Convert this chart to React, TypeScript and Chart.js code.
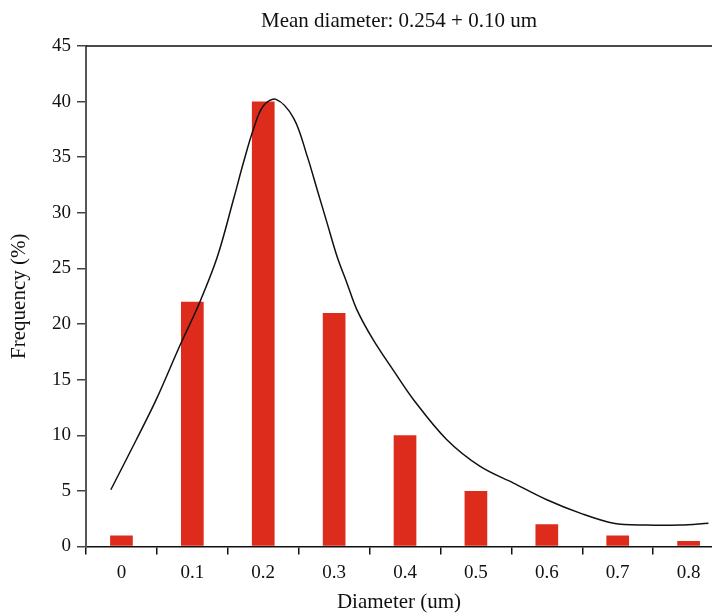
import React, { useEffect, useRef } from "react";
import { Chart, registerables } from "chart.js";

Chart.register(...registerables);

const diameters = [0, 0.1, 0.2, 0.3, 0.4, 0.5, 0.6, 0.7, 0.8];
const frequencies = [1, 22, 40, 21, 10, 5, 2, 1, 0.5];
const xTickLabels = ["0", "0.1", "0.2", "0.3", "0.4", "0.5", "0.6", "0.7", "0.8"];
const yTicks = [0, 5, 10, 15, 20, 25, 30, 35, 40, 45];

const curveX = [-0.015, 0.021, 0.049, 0.082, 0.11, 0.135, 0.158, 0.172, 0.186, 0.2, 0.218, 0.243, 0.262, 0.276, 0.29, 0.304, 0.318, 0.332, 0.355, 0.385, 0.412, 0.459, 0.506, 0.553, 0.6, 0.647, 0.694, 0.741, 0.788, 0.828];
const curveY = [5.1, 9.6, 13.2, 18.0, 21.9, 26.0, 31.2, 34.5, 37.5, 39.6, 40.2, 38.5, 35.1, 32.1, 29.1, 26.1, 23.7, 21.3, 18.6, 15.7, 13.2, 9.6, 7.2, 5.7, 4.2, 3.0, 2.1, 1.93, 1.93, 2.08];

const FONT = "'Liberation Serif', 'Times New Roman', serif";

export default function App() {
  const ref = useRef<HTMLCanvasElement | null>(null);

  useEffect(() => {
    document.body.style.margin = "0";
    const canvas = ref.current;
    if (!canvas) return;

    const topLine = {
      id: "topLine",
      afterDraw(chart: any) {
        const { ctx, chartArea } = chart;
        ctx.save();
        ctx.strokeStyle = "#111";
        ctx.lineWidth = 1.5;
        ctx.beginPath();
        ctx.moveTo(chartArea.left, chartArea.top);
        ctx.lineTo(chartArea.right, chartArea.top);
        ctx.stroke();
        ctx.restore();
      },
    };

    const chart = new Chart(canvas, {
      type: "bar",
      data: {
        datasets: [
          {
            type: "bar",
            data: diameters.map((d, i) => ({ x: d, y: frequencies[i] })),
            backgroundColor: "rgb(221,44,27)",
            barPercentage: 0.32,
            categoryPercentage: 1,
            order: 2,
          } as any,
          {
            type: "line",
            data: curveX.map((x, i) => ({ x, y: curveY[i] })),
            borderColor: "#111",
            borderWidth: 1.5,
            pointRadius: 0,
            fill: false,
            tension: 0.35,
            order: 1,
          } as any,
        ],
      },
      options: {
        responsive: false,
        animation: false,
        devicePixelRatio: 1,
        layout: { padding: 0 },
        plugins: {
          legend: { display: false },
          tooltip: { enabled: false },
          title: { display: false },
        },
        scales: {
          x: {
            type: "linear",
            offset: false,
            min: -0.05,
            max: 0.833,
            afterBuildTicks(scale: any) {
              scale.ticks = diameters.map((v) => ({ value: v }));
            },
            afterFit(scale: any) {
              scale.height = 68.5;
            },
            ticks: {
              color: "#111",
              font: { family: FONT, size: 19 },
              padding: 7,
              maxRotation: 0,
              autoSkip: false,
              callback: (_v: any, i: number) => xTickLabels[i],
            },
            grid: {
              display: true,
              drawOnChartArea: false,
              drawTicks: true,
              tickLength: 8,
              offset: true,
              color: "#111",
              lineWidth: 1.5,
            },
            border: { display: true, color: "#111", width: 1.5 },
            title: {
              display: true,
              text: "Diameter (um)",
              color: "#111",
              font: { family: FONT, size: 21, lineHeight: 1.2 },
              padding: { top: 0, bottom: 0 },
            },
          },
          xTop: {
            type: "linear",
            position: "top",
            offset: false,
            min: -0.05,
            max: 0.833,
            afterFit(scale: any) {
              scale.height = 46;
            },
            ticks: { display: false },
            grid: { display: false },
            border: { display: false },
            title: {
              display: true,
              text: "Mean diameter: 0.254 + 0.10 um",
              color: "#111",
              font: { family: FONT, size: 21, lineHeight: 1.2 },
              padding: { top: 9, bottom: 0 },
            },
          },
          y: {
            type: "linear",
            min: 0,
            max: 45,
            afterBuildTicks(scale: any) {
              scale.ticks = yTicks.map((v) => ({ value: v }));
            },
            afterFit(scale: any) {
              scale.width = 86;
            },
            ticks: {
              color: "#111",
              font: { family: FONT, size: 19 },
              padding: 6,
            },
            grid: {
              display: true,
              drawOnChartArea: false,
              drawTicks: true,
              tickLength: 9,
              color: "#444",
              lineWidth: 1.5,
            },
            border: { display: true, color: "#555", width: 2 },
            title: {
              display: true,
              text: "Frequency (%)",
              color: "#111",
              font: { family: FONT, size: 21, lineHeight: 1.2 },
              padding: { top: 7, bottom: 0 },
            },
          },
        },
      },
      plugins: [topLine],
    } as any);

    return () => chart.destroy();
  }, []);

  return (
    <div style={{ width: 712, height: 615, position: "relative" }}>
      <canvas ref={ref} width={712} height={615} style={{ display: "block" }} />
    </div>
  );
}
